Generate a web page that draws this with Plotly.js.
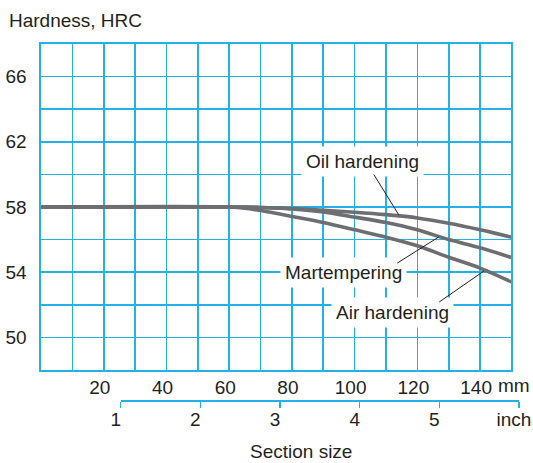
<!DOCTYPE html>
<html>
<head>
<meta charset="utf-8">
<script src="https://cdn.plot.ly/plotly-3.0.1.min.js"></script>
<style>
  html, body { margin: 0; padding: 0; background: #fff; }
  #chart { width: 533px; height: 463px; }
</style>
</head>
<body>
<div id="chart"></div>
<script>
// ---- data ----
const sizeMm = [0, 60, 65, 70, 80, 90, 100, 110, 120, 130, 140, 150];
const oilHardening = [58, 58, 58, 57.97, 57.9, 57.8, 57.68, 57.53, 57.33, 57.0, 56.6, 56.15];
const martempering = [58, 58, 58, 57.97, 57.88, 57.7, 57.38, 57.05, 56.6, 56.0, 55.5, 54.9];
const airHardening = [58, 58, 57.93, 57.78, 57.42, 57.05, 56.6, 56.15, 55.62, 54.92, 54.25, 53.4];

const mmTickVals = [20, 40, 60, 80, 100, 120, 140];
const mmTickText = ['20', '40', '60', '80', '100', '120', '140'];
const inchTickVals = [1, 2, 3, 4, 5, 6];
const inchTickText = ['1', '2', '3', '4', '5', 'inch'];
const hrcTickVals = [50, 54, 58, 62, 66];
const hrcTickText = ['50', '54', '58', '62', '66'];

const labelNames = ['Oil hardening', 'Martempering', 'Air hardening'];
// label text positions [mm, HRC]
const labelPos = [[102.5, 60.82], [96.5, 54.0], [112.1, 51.5]];
// leader lines: tail [mm, HRC] -> tip on curve [mm, HRC]
const leaderTail = [[105.8, 60.09], [113.1, 54.5], [126.5, 52.11]];
const leaderTip = [[114.1, 57.51], [126.8, 56.16], [141.2, 54.07]];

// ---- style ----
const gridBlue = '#22b2e8';
const curveGrey = '#6d6e71';
const textCol = '#231f20';
const fontFam = '"Liberation Sans", Arial, Helvetica, sans-serif';
const fs = 19;

const mmMax = 150, inchMaxMm = 6 * 25.4;
const mmDomEnd = mmMax / inchMaxMm;
const inchDomStart = 25.4 / inchMaxMm;

const W = 533, H = 463;
const mL = 41, mR = W - 519, mT = 44, mB = 63;
const paperH = H - mT - mB;
const paperW = W - mL - mR;
const yDomStart = 30 / paperH;

function curve(y, name) {
  return {
    x: sizeMm, y: y, name: name, type: 'scatter', mode: 'lines',
    line: { color: curveGrey, width: 3.6, shape: 'spline', smoothing: 0.8 },
    xaxis: 'x', yaxis: 'y', hoverinfo: 'skip', showlegend: false
  };
}

const traces = [
  curve(airHardening, 'Air hardening'),
  curve(martempering, 'Martempering'),
  curve(oilHardening, 'Oil hardening'),
  // empty trace that carries the inch scale
  { x: inchTickVals, y: inchTickVals.map(() => null), xaxis: 'x2', yaxis: 'y2',
    type: 'scatter', mode: 'lines', hoverinfo: 'skip', showlegend: false }
];

const annotations = [];
labelNames.forEach((t, i) => {
  annotations.push({
    x: labelPos[i][0], y: labelPos[i][1], xref: 'x', yref: 'y',
    text: t, showarrow: false, bgcolor: '#ffffff', borderpad: 4,
    font: { family: fontFam, size: fs, color: textCol }
  });
  annotations.push({
    x: leaderTip[i][0], y: leaderTip[i][1], xref: 'x', yref: 'y',
    ax: leaderTail[i][0], ay: leaderTail[i][1], axref: 'x', ayref: 'y',
    text: '', showarrow: true, arrowhead: 0, arrowwidth: 1, arrowcolor: textCol,
    standoff: 0, startstandoff: 0
  });
});
// unit "mm"
annotations.push({
  x: (496 - mL) / paperW, y: (H - mB - 385.5) / paperH,
  xref: 'paper', yref: 'paper', xanchor: 'left', yanchor: 'middle',
  text: 'mm', showarrow: false,
  font: { family: fontFam, size: fs, color: textCol }
});
// axis title
annotations.push({
  x: (301 - mL) / paperW, y: (H - mB - 451.5) / paperH,
  xref: 'paper', yref: 'paper', xanchor: 'center', yanchor: 'middle',
  text: 'Section size', showarrow: false,
  font: { family: fontFam, size: fs, color: textCol }
});

const layout = {
  width: W, height: H,
  margin: { l: mL, r: mR, t: mT, b: mB, pad: 0 },
  paper_bgcolor: '#ffffff', plot_bgcolor: 'rgba(0,0,0,0)',
  font: { family: fontFam, size: fs, color: textCol },
  showlegend: false,
  title: {
    text: 'Hardness, HRC', xref: 'container', yref: 'container',
    x: 9 / W, xanchor: 'left', y: 1 - 20 / H, yanchor: 'middle',
    font: { family: fontFam, size: fs, color: textCol }
  },
  xaxis: {
    domain: [0, mmDomEnd], range: [0, mmMax], anchor: 'y',
    tickmode: 'array', tickvals: mmTickVals, ticktext: mmTickText,
    ticks: '', ticklabelshift: -4, ticklabelstandoff: 0,
    showgrid: true, gridcolor: gridBlue, gridwidth: 1.6,
    minor: { dtick: 10, tick0: 0, showgrid: true, gridcolor: gridBlue, gridwidth: 1.6, ticks: '' },
    showline: true, linecolor: gridBlue, linewidth: 1.6, mirror: true,
    zeroline: false, fixedrange: true,
    tickfont: { family: fontFam, size: fs, color: textCol }
  },
  xaxis2: {
    domain: [inchDomStart, 1], range: [1, 6], anchor: 'free', position: 0,
    side: 'bottom',
    tickmode: 'array', tickvals: inchTickVals, ticktext: inchTickText,
    ticks: 'outside', ticklen: 6, tickwidth: 1.6, tickcolor: gridBlue,
    ticklabelshift: -5, ticklabelstandoff: -4,
    showgrid: false, zeroline: false,
    showline: true, linecolor: gridBlue, linewidth: 1.6,
    fixedrange: true,
    tickfont: { family: fontFam, size: fs, color: textCol }
  },
  yaxis: {
    domain: [yDomStart, 1], range: [48, 68],
    tickmode: 'array', tickvals: hrcTickVals, ticktext: hrcTickText,
    ticks: '', ticklabelstandoff: 9,
    showgrid: true, gridcolor: gridBlue, gridwidth: 1.6,
    minor: { dtick: 2, tick0: 48, showgrid: true, gridcolor: gridBlue, gridwidth: 1.6, ticks: '' },
    showline: true, linecolor: gridBlue, linewidth: 1.6, mirror: true,
    zeroline: false, fixedrange: true,
    tickfont: { family: fontFam, size: fs, color: textCol }
  },
  yaxis2: {
    domain: [yDomStart, 1], range: [48, 68], anchor: 'x2',
    visible: false, showgrid: false, zeroline: false, showline: false,
    fixedrange: true
  },
  annotations: annotations
};

Plotly.newPlot('chart', traces, layout, { staticPlot: true, displayModeBar: false });
</script>
</body>
</html>
